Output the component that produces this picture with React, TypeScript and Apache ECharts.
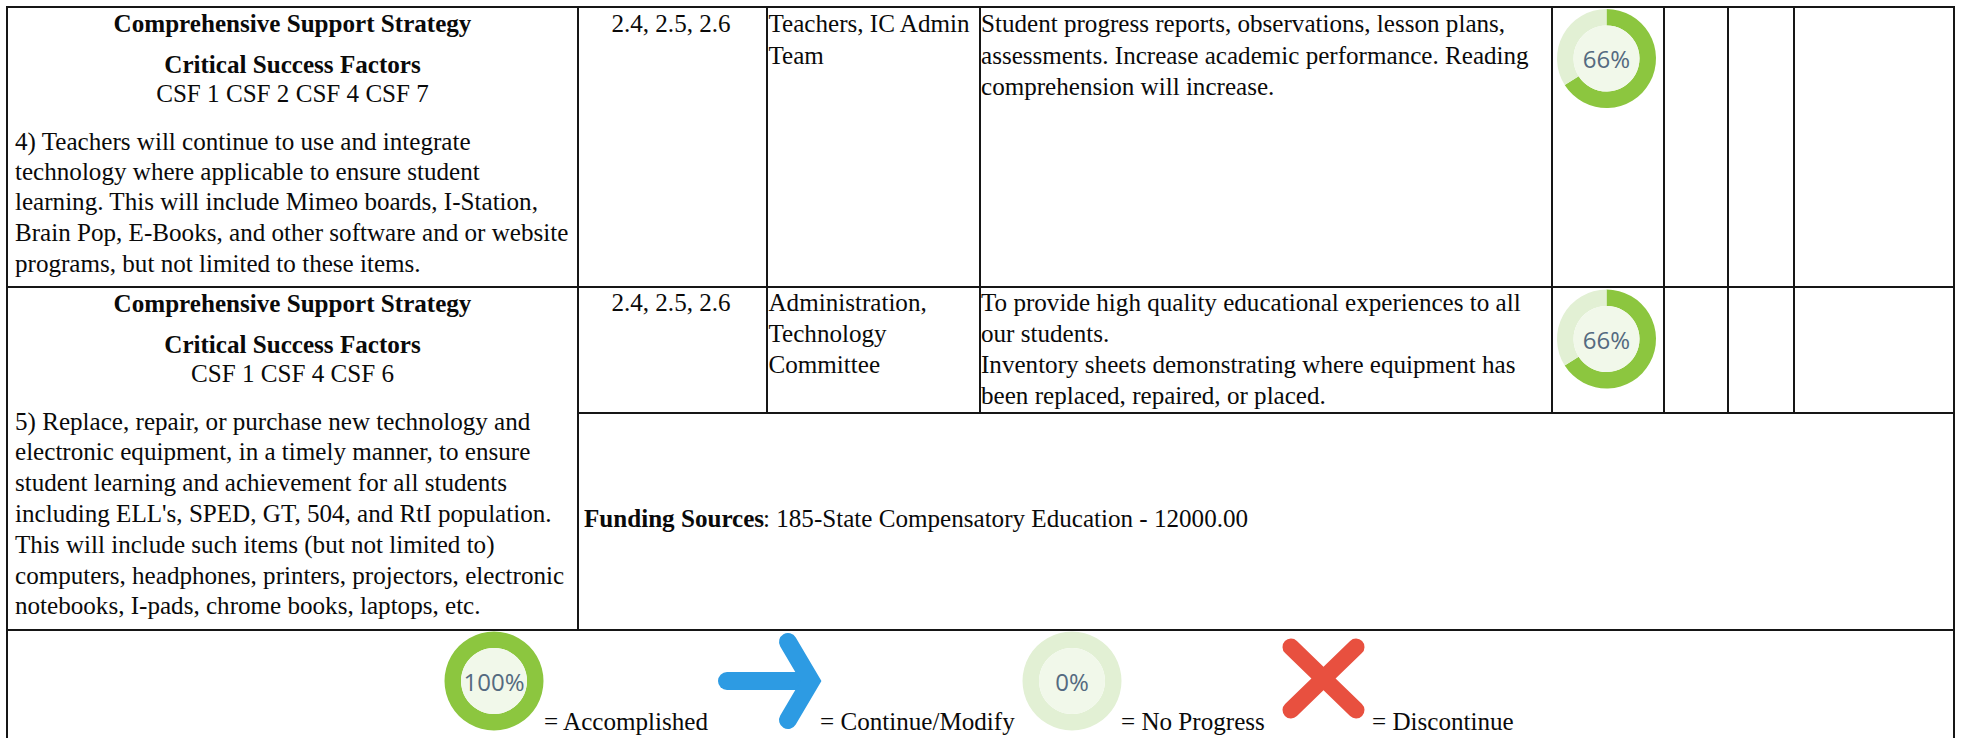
import React, { useEffect, useRef } from "react";
import * as echarts from "echarts";

const W = 1963;
const H = 738;
const SERIF = '"Liberation Serif", serif';
const SANS = '"Open Sans", sans-serif';
const INK = "#0a0a0a";
const RULE = "#161616";
const GREEN = "#8cc63f";
const PALE = "#e2f0d4";
const CORE = "#f1f8ea";
const TEXT_DY = -1.5;

// [x1, y1, x2, y2]
const rules = [
  [7, 7, 1954, 7],
  [7, 287, 1954, 287],
  [578, 413, 1954, 413],
  [7, 630, 1954, 630],
  [7, 6, 7, 738],
  [578, 7, 578, 630],
  [767, 7, 767, 413],
  [980, 7, 980, 413],
  [1552, 7, 1552, 413],
  [1664, 7, 1664, 413],
  [1728, 7, 1728, 413],
  [1794, 7, 1794, 413],
  [1954, 6, 1954, 738],
];

// text, x, y, align, bold
const cells: [string, number, number, string, boolean][] = [
  ["Comprehensive Support Strategy", 292.5, 25, "center", true],
  ["Critical Success Factors", 292.5, 65.5, "center", true],
  ["CSF 1 CSF 2 CSF 4 CSF 7", 292.5, 95, "center", false],
  ["4) Teachers will continue to use and integrate", 15, 143, "left", false],
  ["technology where applicable to ensure student", 15, 173, "left", false],
  ["learning. This will include Mimeo boards, I-Station,", 15, 203, "left", false],
  ["Brain Pop, E-Books, and other software and or website", 15, 234, "left", false],
  ["programs, but not limited to these items.", 15, 265, "left", false],
  ["Comprehensive Support Strategy", 292.5, 305, "center", true],
  ["Critical Success Factors", 292.5, 345.5, "center", true],
  ["CSF 1 CSF 4 CSF 6", 292.5, 375, "center", false],
  ["5) Replace, repair, or purchase new technology and", 15, 423, "left", false],
  ["electronic equipment, in a timely manner, to ensure", 15, 453, "left", false],
  ["student learning and achievement for all students", 15, 484, "left", false],
  ["including ELL's, SPED, GT, 504, and RtI population.", 15, 515, "left", false],
  ["This will include such items (but not limited to)", 15, 546, "left", false],
  ["computers, headphones, printers, projectors, electronic", 15, 577, "left", false],
  ["notebooks, I-pads, chrome books, laptops, etc.", 15, 607, "left", false],
  ["2.4, 2.5, 2.6", 671, 25, "center", false],
  ["Teachers, IC Admin", 768.5, 25, "left", false],
  ["Team", 768.5, 57, "left", false],
  ["Student progress reports, observations, lesson plans,", 981, 25, "left", false],
  ["assessments. Increase academic performance. Reading", 981, 57, "left", false],
  ["comprehension will increase.", 981, 88, "left", false],
  ["2.4, 2.5, 2.6", 671, 304, "center", false],
  ["Administration,", 768.5, 304, "left", false],
  ["Technology", 768.5, 335, "left", false],
  ["Committee", 768.5, 366, "left", false],
  ["To provide high quality educational experiences to all", 981, 304, "left", false],
  ["our students.", 981, 335, "left", false],
  ["Inventory sheets demonstrating where equipment has", 981, 366, "left", false],
  ["been replaced, repaired, or placed.", 981, 397, "left", false],
  ["Funding Sources", 584, 520, "left", true],
  [": 185-State Compensatory Education - 12000.00", 763, 520, "left", false],
  ["= Accomplished", 544, 723, "left", false],
  ["= Continue/Modify", 820, 723, "left", false],
  ["= No Progress", 1121, 723, "left", false],
  ["= Discontinue", 1372, 723, "left", false],
];

const gaugeNames = ["Row 4", "Row 5", "Accomplished", "No Progress"];
const gaugeValues = [66, 66, 100, 0];
const gaugeCenters = [
  [1606.5, 58.5],
  [1606.5, 339],
  [494, 681],
  [1072, 681],
];

const arrowLines = [
  [[727, 681], [808, 681]],
  [[788, 642], [811, 681], [788, 720]],
];
const crossLines = [
  [[1291, 647], [1356, 710]],
  [[1356, 647], [1291, 710]],
];

export default function App() {
  const ref = useRef<HTMLDivElement>(null);
  useEffect(() => {
    document.body.style.margin = "0";
    const chart = echarts.init(ref.current!, null, { renderer: "svg" });
    const series: any[] = [];
    gaugeValues.forEach((v, i) => {
      series.push({
        type: "pie",
        name: gaugeNames[i],
        center: gaugeCenters[i],
        radius: [33, 49.5],
        startAngle: 90,
        clockwise: true,
        silent: true,
        stillShowZeroSum: true,
        minShowLabelAngle: 0,
        label: { show: false },
        labelLine: { show: false },
        data: [
          { value: v, itemStyle: { color: GREEN } },
          { value: 100 - v, itemStyle: { color: PALE } },
        ],
      });
      series.push({
        type: "pie",
        name: gaugeNames[i] + " core",
        center: gaugeCenters[i],
        radius: [0, 33],
        silent: true,
        labelLine: { show: false },
        label: {
          show: true,
          position: "center",
          formatter: v + "%",
          fontFamily: SANS,
          fontSize: 24,
          color: "#546a80",
        },
        data: [{ value: 1, itemStyle: { color: CORE } }],
      });
    });
    const graphic: any[] = [];
    rules.forEach(([x1, y1, x2, y2]) =>
      graphic.push({
        type: "line",
        shape: { x1, y1, x2, y2 },
        style: { stroke: RULE, lineWidth: 2 },
        silent: true,
      })
    );
    cells.forEach(([text, x, y, align, bold]) =>
      graphic.push({
        type: "text",
        x,
        y: y + TEXT_DY,
        silent: true,
        style: {
          text,
          fill: INK,
          fontFamily: SERIF,
          fontSize: 25.1,
          fontWeight: bold ? "bold" : "normal",
          align,
          verticalAlign: "middle",
        },
      })
    );
    arrowLines.forEach((points) =>
      graphic.push({
        type: "polyline",
        shape: { points },
        silent: true,
        style: { stroke: "#2d9be3", lineWidth: 18, lineCap: "round", lineJoin: "miter", fill: "none" },
      })
    );
    crossLines.forEach(([a, b]) =>
      graphic.push({
        type: "line",
        shape: { x1: a[0], y1: a[1], x2: b[0], y2: b[1] },
        silent: true,
        style: { stroke: "#e8503f", lineWidth: 17, lineCap: "round" },
      })
    );
    chart.setOption({
      animation: false,
      backgroundColor: "#ffffff",
      series,
      graphic: { elements: graphic },
    });
    return () => chart.dispose();
  }, []);
  return <div ref={ref} style={{ position: "absolute", left: 0, top: 0, width: W, height: H }} />;
}
